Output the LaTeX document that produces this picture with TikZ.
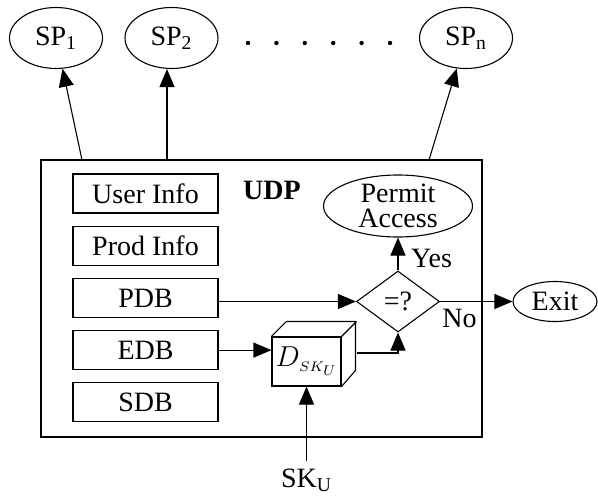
\documentclass[tikz,border=0pt]{standalone}
\usepackage{fontspec}
\setmainfont{Liberation Serif}
\usetikzlibrary{arrows.meta}
\usetikzlibrary{shapes.geometric}
\usetikzlibrary{positioning}

\begin{document}
\begin{tikzpicture}[>={Triangle[length=9pt,width=7.5pt]},->,x=0.5pt,y=-0.5pt,
			line width=0.55pt,node distance=26.1pt,font=\fontsize{14}{16}\selectfont]
			\tikzstyle{sp}=[ellipse,draw,minimum width=46.5pt,minimum height=30.5pt,inner sep=0pt]
			\tikzstyle{store}=[rectangle,draw,minimum width=72.5pt,minimum height=19.5pt,inner sep=0pt]
			
			\useasboundingbox (0,0) rectangle (598,498);
			
			\node[sp] (sp1) at (56,38) {SP\textsubscript{1}};
			\node[sp] (sp2) [right of=sp1,node distance=57.75pt] {SP\textsubscript{2}};
			\node[sp] (spn) at (466,38) {SP\textsubscript{n}};
			\foreach \i in {0,...,5}
				\fill (248+28.4*\i,43) circle (1.1pt);
			
			\node[draw,minimum width=220.5pt,minimum height=138.5pt] (udp) at (261.5,298.5) {};
			\node[font=\fontsize{14}{16}\selectfont\bfseries] (udplabel) at (272,190) {UDP};
			
			\node[store] (user) at (145.5,193.5) {User Info};
			\node[store] (prod) [below of=user] {Prod Info};
			\node[store] (pdb)  [below of=prod] {PDB};
			\node[store] (edb)  [below of=pdb]  {EDB};
			\node[store] (sdb)  [below of=edb]  {SDB};
			
			\node[store,minimum width=34.5pt,minimum height=24.5pt] (dec) at (306.5,361.5) {$D_{\scriptscriptstyle SK_U}$};
			\draw[-] (dec.north west) -- ++(15,-15) -- ++(69,0) -- ++(0,49) -- (dec.south east)
				(dec.north east) -- ++(15,-15);
			\node[diamond,draw,minimum width=41.5pt,minimum height=30.5pt,inner sep=0pt] (eq) at (398,301.5) {=?};
			\node[sp,minimum width=74.5pt,minimum height=31pt,align=center,
				font=\fontsize{14}{12.5}\selectfont] (permit) at (398,206) {Permit\\Access};
			\node[sp,minimum width=42pt,minimum height=20pt] (exit) at (555,301.5) {Exit};
			\node (sku) at (306.5,480) {SK\textsubscript{U}};
			
			\coordinate (o1) at (82,160);
			\coordinate (o2) at (167,160);
			\coordinate (on) at (429,160);
			
			\path
			(o1) edge (sp1)
			(o2) edge (o2 |- sp2.south)
			(on) edge (spn)
			(pdb.east |- eq.west) edge (eq.west)
			(edb.east) edge (edb.east -| dec.west)
			(eq.north) edge node[right=3pt,pos=.35] {Yes} (permit.south)
			(eq.east) edge node[below,pos=.27] {No} (exit.west)
			(sku) edge (dec);
			\draw ([shift={(7.5pt,4.25pt)}]dec.east) -| (eq.south);
\end{tikzpicture}
\end{document}
